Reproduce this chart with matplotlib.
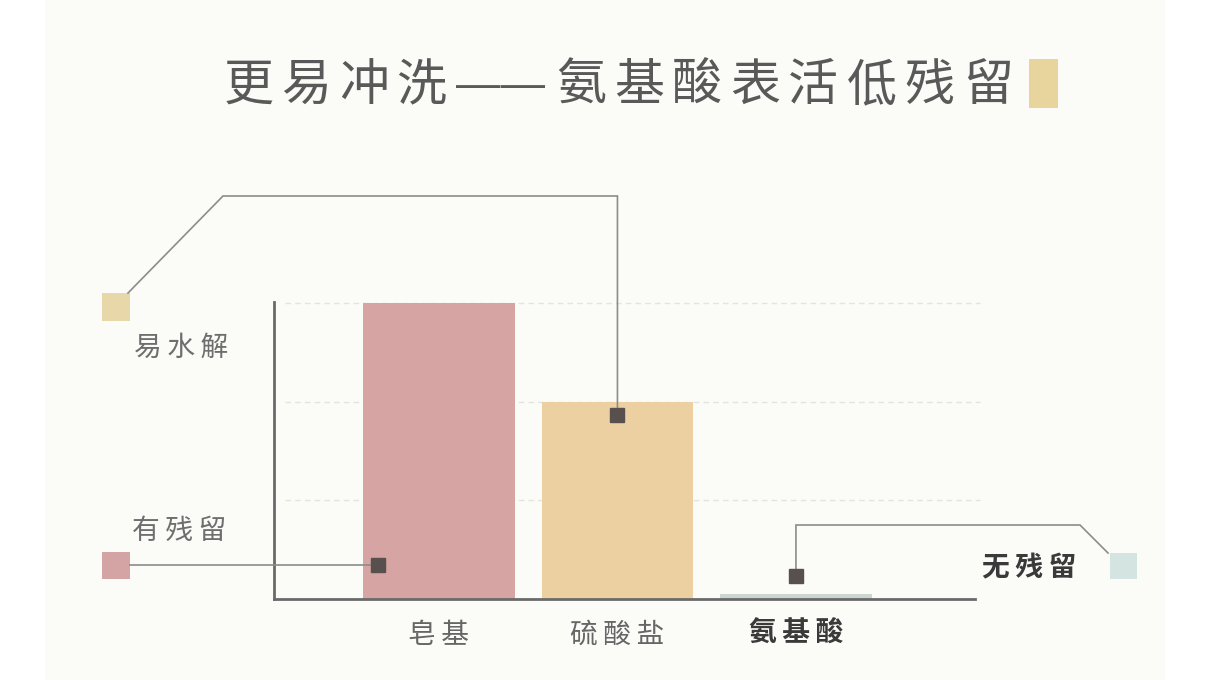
import matplotlib
matplotlib.use("Agg")
import matplotlib.pyplot as plt
from matplotlib.patches import Rectangle

plt.rcParams['font.family'] = ['Noto Sans CJK SC', 'DejaVu Sans']

# ---- data ----
categories = ["皂基", "硫酸盐", "氨基酸"]
residue = [3.0, 2.0, 0.05]
bar_colors = ["#D6A4A2", "#EDD0A2", "#CBD6D2"]
grid_levels = [1, 2, 3]
title_left = "更易冲洗"
title_dash = "——"
title_right = "氨基酸表活低残留"
label_easy = "易水解"
label_residue = "有残留"
label_none = "无残留"
# marker anchor points on bars (category index offset, value)
marker_pts = {"soap": (-0.34, 0.345), "sulfate": (0.0, 1.86), "amino": (0.0, 0.233)}

TS = "\u2009"  # thin space for letter spacing
def spaced(s):
    return TS.join(s)

W, H = 1210, 680
fig = plt.figure(figsize=(W / 100, H / 100), dpi=100, facecolor="#FFFFFF")

# background panel
bg = fig.add_axes([0, 0, 1, 1], zorder=-2)
bg.set_xlim(0, W); bg.set_ylim(H, 0); bg.axis("off")
bg.add_patch(Rectangle((45, 0), 1120, H, color="#FBFBF7", lw=0))

# main axes
x0, x1, yb, yt = 274, 975, 599, 302
ax = fig.add_axes([x0 / W, (H - yb) / H, (x1 - x0) / W, (yb - yt) / H], zorder=1)
ax.set_facecolor("none")
xs = list(range(len(categories)))
ax.bar(xs, residue, width=0.85, color=bar_colors, zorder=2)
ax.set_xlim(-0.924, 3.003)
ax.set_ylim(0, 3.01)
ax.hlines(grid_levels, -0.86, 3.03, colors="#E4E4DE", linestyles=(0, (4, 3)),
          lw=1.0, zorder=0, clip_on=False)
for s in ["top", "right"]:
    ax.spines[s].set_visible(False)
for s in ["left", "bottom"]:
    ax.spines[s].set_color("#6A6A6A")
    ax.spines[s].set_linewidth(2)
ax.set_yticks([])
ax.set_xticks(xs)
ax.set_xticklabels([spaced(c) for c in categories], fontsize=20)
ax.tick_params(axis="x", length=0, pad=15)
for i, t in enumerate(ax.get_xticklabels()):
    if i == 2:
        t.set_color("#3A3A3A"); t.set_fontweight("bold")
    else:
        t.set_color("#666666")

# overlay for annotations
ov = fig.add_axes([0, 0, 1, 1], zorder=3)
ov.set_xlim(0, W); ov.set_ylim(H, 0); ov.axis("off")

def to_px(x, y):
    dx, dy = ax.transData.transform((x, y))
    return dx * W / fig.bbox.width, H - dy * H / fig.bbox.height

line_kw = dict(color="#8C8C8C", lw=1.2, solid_joinstyle="miter")
mk_kw = dict(marker="s", markersize=9.5, color="#57504F", linestyle="none", zorder=5)

# title, placed with wide letter spacing
title_kw = dict(fontsize=36, color="#595959", fontweight="light", ha="left", va="center")
for i, ch in enumerate(title_left):
    ov.text(224 + i * 57.5, 86, ch, **title_kw)
ov.text(500, 98, title_dash, fontsize=32, color="#595959",
        family=["Liberation Sans", "DejaVu Sans"], ha="center", va="baseline")
for i, ch in enumerate(title_right):
    ov.text(556 + i * 58.1, 86, ch, **title_kw)
ov.add_patch(Rectangle((1029, 59), 29, 49, color="#E8D49D", lw=0))

# top-left: easy hydrolysis -> sulfate
px_s, py_s = to_px(1 + marker_pts["sulfate"][0], marker_pts["sulfate"][1])
ov.add_patch(Rectangle((102, 293), 28, 28, color="#E8D7A8", lw=0))
ov.plot([128, 223, px_s, px_s], [293, 196, 196, py_s], **line_kw)
ov.plot([px_s], [py_s], **mk_kw)
ov.text(134, 348, spaced(label_easy), fontsize=20, color="#6E6E6E", ha="left", va="center")

# bottom-left: residue -> soap
px_a, py_a = to_px(0 + marker_pts["soap"][0], marker_pts["soap"][1])
ov.add_patch(Rectangle((102, 552), 28, 27, color="#D4A3A3", lw=0))
ov.plot([130, px_a], [py_a, py_a], **line_kw)
ov.plot([px_a], [py_a], **mk_kw)
ov.text(132, 531, spaced(label_residue), fontsize=20, color="#6E6E6E", ha="left", va="center")

# right: amino acid -> no residue
px_m, py_m = to_px(2 + marker_pts["amino"][0], marker_pts["amino"][1])
ov.add_patch(Rectangle((1110, 553), 27, 26, color="#D4E4E1", lw=0))
ov.plot([px_m, px_m, 1080, 1108], [py_m, 525, 525, 553], **line_kw)
ov.plot([px_m], [py_m], **mk_kw)
ov.text(982, 568, spaced(label_none), fontsize=20, color="#3A3A3A", fontweight="bold",
        ha="left", va="center")

fig.savefig("out.png", dpi=100, facecolor=fig.get_facecolor())
